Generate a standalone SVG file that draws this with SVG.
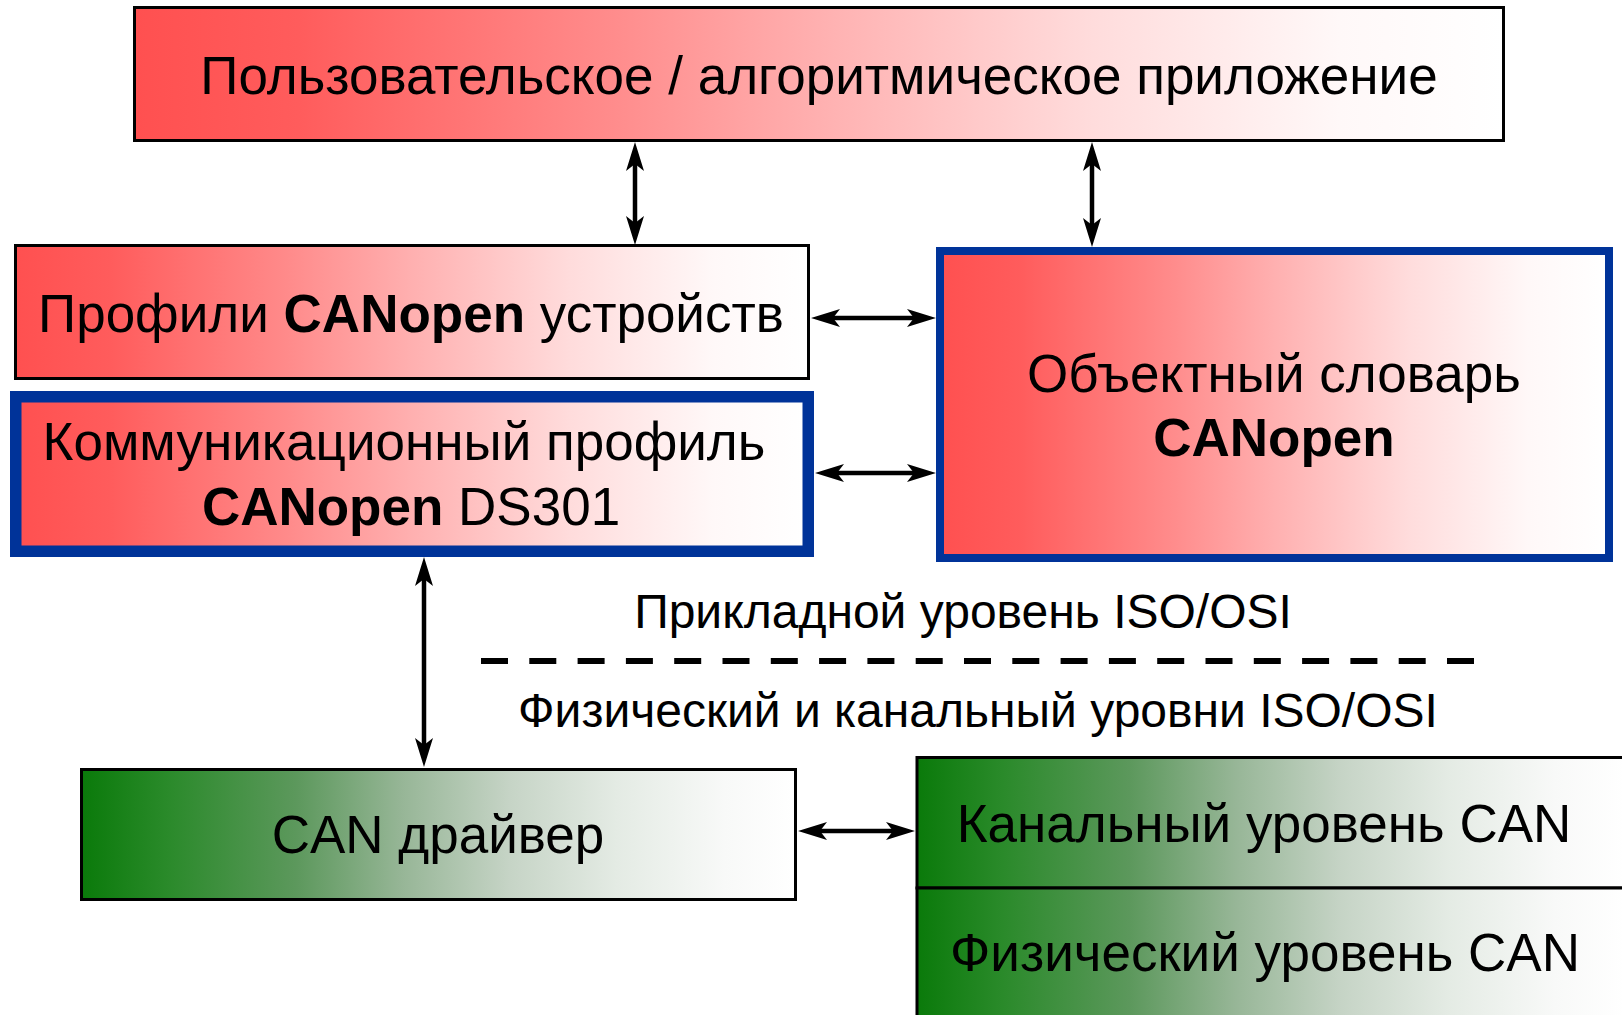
<svg xmlns="http://www.w3.org/2000/svg" width="1622" height="1015" viewBox="0 0 1622 1015">
<style>
text{font-family:"Liberation Sans",Arial,sans-serif;fill:#000;text-anchor:middle}
.t53{font-size:53px}
.t48{font-size:48px}
.b{font-weight:bold}
.box{stroke:#000;stroke-width:3}
.blue{stroke:#003399}
.conn{stroke:#000;stroke-width:4.5;fill:none;marker-start:url(#ah);marker-end:url(#ah)}
</style>
<defs>
<linearGradient id="red" x1="0" y1="0" x2="1" y2="0">
<stop offset="0" stop-color="#ff5050"/>
<stop offset="0.12" stop-color="#ff5c5c"/>
<stop offset="0.35" stop-color="#ff8c8c"/>
<stop offset="0.5" stop-color="#ffb0b0"/>
<stop offset="0.7" stop-color="#ffdcdc"/>
<stop offset="0.88" stop-color="#fff8f8"/>
<stop offset="1" stop-color="#ffffff"/>
</linearGradient>
<linearGradient id="green" x1="0" y1="0" x2="1" y2="0">
<stop offset="0" stop-color="#0a7a0a"/>
<stop offset="0.12" stop-color="#2a8a2a"/>
<stop offset="0.3" stop-color="#5c985c"/>
<stop offset="0.45" stop-color="#97b697"/>
<stop offset="0.6" stop-color="#c6d4c6"/>
<stop offset="0.75" stop-color="#e4ebe4"/>
<stop offset="0.9" stop-color="#f8f9f8"/>
<stop offset="1" stop-color="#ffffff"/>
</linearGradient>
<marker id="ah" markerUnits="userSpaceOnUse" markerWidth="30" markerHeight="20" refX="0" refY="0" orient="auto-start-reverse" overflow="visible">
<path d="M20,0 L-9,-9 L-2,0 L-9,9 Z" fill="#000"/>
</marker>
</defs>

<g id="app">
<rect class="box" x="134.5" y="7.5" width="1369" height="133" fill="url(#red)"/>
<text class="t53" x="819" y="94">Пользовательское / алгоритмическое приложение</text>
</g>

<g id="device-profiles">
<rect class="box" x="15.5" y="245.5" width="793" height="133" fill="url(#red)"/>
<text class="t53" x="411" y="332">Профили <tspan class="b">CANopen</tspan> устройств</text>
</g>

<g id="comm-profile">
<rect class="blue" x="15.75" y="396.75" width="792.5" height="154.5" stroke-width="11.5" fill="url(#red)"/>
<text class="t53" x="404" y="460">Коммуникационный профиль</text>
<text class="t53" x="411" y="525"><tspan class="b">CANopen</tspan> DS301</text>
</g>

<g id="object-dictionary">
<rect class="blue" x="940" y="251" width="669" height="307" stroke-width="8" fill="url(#red)"/>
<text class="t53" x="1274" y="392">Объектный словарь</text>
<text class="t53 b" x="1274" y="456">CANopen</text>
</g>

<g id="iso-labels">
<text class="t48" x="963" y="628">Прикладной уровень ISO/OSI</text>
<line x1="481" y1="661" x2="1474" y2="661" stroke="#000" stroke-width="6" stroke-dasharray="27 21.3"/>
<text class="t48" x="978" y="727">Физический и канальный уровни ISO/OSI</text>
</g>

<g id="can-driver">
<rect class="box" x="81.5" y="769.5" width="714" height="130" fill="url(#green)"/>
<text class="t53" x="438" y="853">CAN драйвер</text>
</g>

<g id="can-data-link">
<rect class="box" x="917" y="757.5" width="708" height="130.5" fill="url(#green)"/>
<text class="t53" x="1264" y="842">Канальный уровень CAN</text>
</g>

<g id="can-physical">
<rect class="box" x="917" y="888" width="708" height="140" fill="url(#green)"/>
<text class="t53" x="1265" y="971">Физический уровень CAN</text>
</g>

<g id="connectors">
<line class="conn" x1="635" y1="162" x2="635" y2="225"/>
<line class="conn" x1="1092" y1="162" x2="1092" y2="227"/>
<line class="conn" x1="831" y1="318" x2="916" y2="318"/>
<line class="conn" x1="835" y1="473" x2="916" y2="473"/>
<line class="conn" x1="424" y1="577" x2="424" y2="747"/>
<line class="conn" x1="818" y1="831" x2="895" y2="831"/>
</g>
</svg>
